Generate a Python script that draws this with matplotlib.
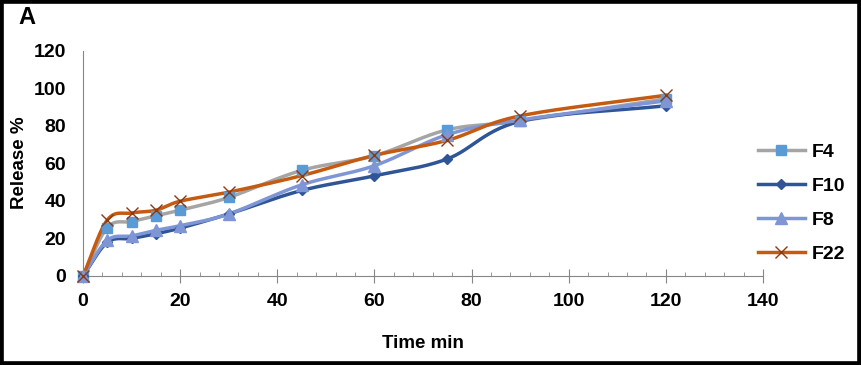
import numpy as np
import matplotlib.pyplot as plt
from matplotlib.patches import Rectangle
from matplotlib.lines import Line2D
from matplotlib.ticker import MultipleLocator

plt.rcParams['font.family'] = ['Liberation Sans', 'DejaVu Sans']
plt.rcParams['font.weight'] = 'bold'

time_min = [0, 5, 10, 15, 20, 30, 45, 60, 75, 90, 120]
f4 = [0, 25.8, 29.0, 32.0, 35.0, 41.8, 56.2, 64.0, 77.8, 82.5, 94.3]
f10 = [0, 17.9, 20.0, 22.5, 25.5, 33.0, 45.5, 53.3, 62.3, 82.3, 90.6]
f8 = [0, 19.0, 21.3, 24.3, 26.8, 33.0, 48.5, 58.7, 75.2, 83.0, 93.2]
f22 = [0, 29.8, 33.5, 35.0, 39.8, 44.6, 53.4, 64.2, 72.2, 85.2, 96.2]


def smooth(x, y, n=30):
    """Catmull-Rom style curve through the points (like Excel smoothed lines)."""
    x = np.asarray(x, float)
    y = np.asarray(y, float)
    px = np.concatenate([[2 * x[0] - x[1]], x, [2 * x[-1] - x[-2]]])
    py = np.concatenate([[2 * y[0] - y[1]], y, [2 * y[-1] - y[-2]]])
    xs, ys = [], []
    t = np.linspace(0, 1, n)
    for i in range(1, len(px) - 2):
        p0x, p1x, p2x, p3x = px[i - 1:i + 3]
        p0y, p1y, p2y, p3y = py[i - 1:i + 3]
        m1x, m1y = (p2x - p0x) / 6, (p2y - p0y) / 6
        m2x, m2y = (p3x - p1x) / 6, (p3y - p1y) / 6
        b0 = (1 - t) ** 3
        b1 = 3 * (1 - t) ** 2 * t
        b2 = 3 * (1 - t) * t ** 2
        b3 = t ** 3
        xs.append(b0 * p1x + b1 * (p1x + m1x) + b2 * (p2x - m2x) + b3 * p2x)
        ys.append(b0 * p1y + b1 * (p1y + m1y) + b2 * (p2y - m2y) + b3 * p2y)
    return np.concatenate(xs), np.concatenate(ys)


series = [
    ("F4", f4, "#A5A5A5", "s", "#5B9BD5", "#5B9BD5", 7),
    ("F10", f10, "#2F5597", "D", "#2F5597", "#2F5597", 5.5),
    ("F8", f8, "#7F96D6", "^", "#7F96D6", "#7F96D6", 8),
    ("F22", f22, "#C55A11", "x", "#8B3A12", "#8B3A12", 9),
]

fig = plt.figure(figsize=(8.61, 3.65), dpi=100)
ax = fig.add_axes([83 / 861, 1 - 276 / 365, 680 / 861, 225.5 / 365])

handles = []
for name, vals, lc, mk, mfc, mec, ms in series:
    sx, sy = smooth(time_min, vals)
    ax.plot(sx, sy, color=lc, lw=2.5, zorder=2)
    ax.plot(time_min, vals, ls="none", marker=mk, ms=ms, mfc=mfc, mec=mec,
            mew=1.0, zorder=3, clip_on=False)
    handles.append(Line2D([], [], color=lc, lw=2.5, marker=mk, ms=ms,
                          mfc=mfc, mec=mec, mew=1.0))

ax.set_xlim(0, 140)
ax.set_ylim(0, 120)
ax.xaxis.set_major_locator(MultipleLocator(20))
ax.xaxis.set_minor_locator(MultipleLocator(4))
ax.yaxis.set_major_locator(MultipleLocator(20))
for s in ["top", "right"]:
    ax.spines[s].set_visible(False)
ax.spines["bottom"].set_color("#868686")
ax.spines["left"].set_color("#868686")
ax.tick_params(axis="x", which="major", direction="inout", length=10,
               color="#868686", labelsize=14, pad=7)
ax.tick_params(axis="x", which="minor", direction="in", length=3,
               color="#868686")
ax.tick_params(axis="y", which="major", length=0, labelsize=14, pad=12)
for lab in ax.get_xticklabels() + ax.get_yticklabels():
    lab.set_fontweight("bold")
ax.set_xlabel("Time min", fontsize=13.5, fontweight="bold", labelpad=18)

fig.text(20 / 861, 1 - 163 / 365, "Release %", rotation=90, fontsize=13.5,
         fontweight="bold", ha="center", va="center")

fig.legend(handles, [s[0] for s in series], loc="center left",
           bbox_to_anchor=(758 / 861, 1 - 203 / 365), frameon=False,
           borderaxespad=0, borderpad=0, handlelength=2.4,
           handletextpad=0.35, labelspacing=0.85,
           prop={"weight": "bold", "size": 14})

fig.text(18 / 861, 1 - 18 / 365, "A", fontsize=17, fontweight="bold",
         va="center", ha="left")

fig.patches.append(Rectangle((0, 0), 1, 1, transform=fig.transFigure,
                             fill=False, ec="black", lw=5.5, zorder=10))

fig.savefig("out.png", dpi=100)
